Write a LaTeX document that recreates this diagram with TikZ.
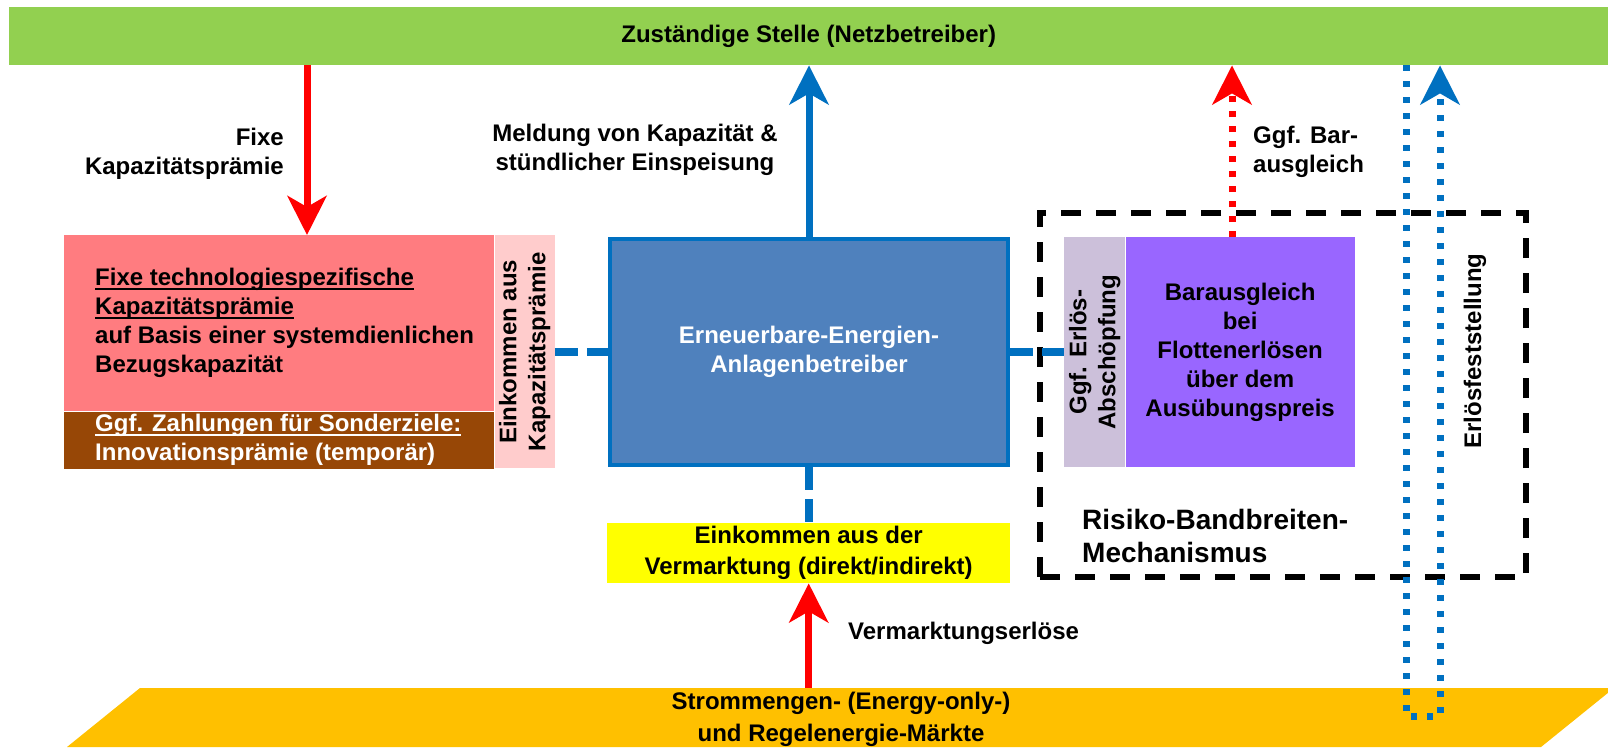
\documentclass[tikz,border=0pt]{standalone}
\usepackage{fontspec}
\setmainfont{Liberation Sans}
\usetikzlibrary{arrows.meta,positioning}

\definecolor{gruen}{HTML}{92D050}
\definecolor{rot}{HTML}{FF0000}
\definecolor{blaulinie}{HTML}{0070C0}
\definecolor{blaubox}{HTML}{4F81BD}
\definecolor{rosa}{HTML}{FF7C80}
\definecolor{hellrosa}{HTML}{FFCCCC}
\definecolor{braun}{HTML}{974706}
\definecolor{gelb}{HTML}{FFFF00}
\definecolor{marktgelb}{HTML}{FFC000}
\definecolor{grau}{HTML}{CCC0DA}
\definecolor{lila}{HTML}{9966FF}

\newcommand{\unterstr}[1]{\leavevmode\setbox0=\hbox{#1}\rlap{\rule[-4pt]{\wd0}{1.8pt}}\box0}

\begin{document}
\begin{tikzpicture}[x=1pt,y=-1pt,
    lbl/.style={font=\bfseries\fontsize{24}{29}\selectfont, inner sep=0pt},
    feld/.style={rectangle, inner sep=0pt, anchor=north west},
    pfeil/.style={line width=7pt, -{Stealth[length=39pt,width=39pt,inset=11pt]}},
    verbindung/.style={blaulinie, line width=8pt, dash pattern=on 23pt off 9pt},
    punkte/.style={line width=7pt, dash pattern=on 6pt off 9pt}]

    % Rahmen
    \useasboundingbox (0,0) rectangle (1608,747);
    \clip (0,0) rectangle (1608,747);

    % Zuständige Stelle oben
    \node[feld, lbl, fill=gruen, minimum width=1599pt, minimum height=58pt] (zust) at (9,7) {Zuständige Stelle (Netzbetreiber)};

    % Märkte unten
    \fill[marktgelb] (67,747) -- (140,688) -- (1614,688) -- (1541,747) -- cycle;
    \coordinate (markttop) at (809,688);
    \node[lbl, align=center, font=\bfseries\fontsize{24}{32}\selectfont] (markt) at (841,719) {Strommengen- (Energy-only-)\\und Regelenergie-Märkte};

    % Kapazitätsprämie links
    \node[feld, fill=rosa, minimum width=430pt, minimum height=176pt] (praemie) at (64,235) {};
    \node[feld, fill=braun, minimum width=430pt, minimum height=57pt] (sonder) at (praemie.south west) {};
    \node[feld, fill=hellrosa, minimum width=60pt, minimum height=233pt] (einkap) at (praemie.north east) {};
    \node[lbl, align=left, anchor=west] (praemietxt) at ([xshift=31pt]praemie.west) {\unterstr{Fixe technologiespezifische}\\\unterstr{Kapazitätsprämie}\\auf Basis einer systemdienlichen\\Bezugskapazität};
    \node[lbl, align=left, anchor=west, text=white] (sondertxt) at ([xshift=31pt]sonder.west) {\unterstr{Ggf. Zahlungen für Sonderziele:}\\Innovationsprämie (temporär)};
    \node[lbl, rotate=90, align=center] (einkaptxt) at (einkap) {Einkommen aus\\Kapazitätsprämie};

    % Anlagenbetreiber
    \node[feld, lbl, fill=blaubox, draw=blaulinie, line width=4pt, text=white, align=center, minimum width=398pt, minimum height=226pt] (betreiber) at (608,237) {Erneuerbare-Energien-\\Anlagenbetreiber};

    % Vermarktung
    \node[feld, lbl, fill=gelb, align=center, font=\bfseries\fontsize{24}{31}\selectfont, minimum width=403pt, minimum height=60pt] (vermarkt) at (607,523) {Einkommen aus der\\Vermarktung (direkt/indirekt)};

    % Risiko-Bandbreiten-Mechanismus
    \node[feld, fill=grau, minimum width=61pt, minimum height=230pt] (abschoepf) at (1064,237) {};
    \node[lbl, rotate=90, align=center] (abschoepftxt) at (abschoepf) {Ggf. Erlös-\\Abschöpfung};
    \node[feld, lbl, fill=lila, align=center, minimum width=229pt, minimum height=230pt] (barausgl) at (abschoepf.north east) {Barausgleich\\bei\\Flottenerlösen\\über dem\\Ausübungspreis};
    \node[draw, line width=6pt, dash pattern=on 20pt off 15pt, inner sep=0pt, minimum width=486pt, minimum height=364pt] (rbm) at (1283,395) {};
    \node[lbl, align=left, anchor=west, font=\bfseries\fontsize{28}{33}\selectfont] (rbmtxt) at (1082,536) {Risiko-Bandbreiten-\\Mechanismus};
    \node[lbl, rotate=90] (erlfest) at (1475,351) {Erlösfeststellung};

    % Gestrichelte Verbindungen
    \draw[verbindung] (einkap.east) -- (einkap.east -| betreiber.west);
    \draw[verbindung] (betreiber.east) -- (betreiber.east -| abschoepf.west);
    \draw[verbindung] (betreiber.south) -- (betreiber.south |- vermarkt.north);

    % Pfeile
    \coordinate (fixe) at (307,0);
    \coordinate (bar) at (1232,0);
    \coordinate (erlhin) at (1406,716);
    \coordinate (erlrueck) at (1440,716);
    \draw[pfeil, rot] (zust.south -| fixe) -- (praemie.north -| fixe);
    \draw[pfeil, blaulinie] (betreiber.north) -- (betreiber.north |- zust.south);
    \draw[pfeil, punkte, rot] (barausgl.north -| bar) -- (zust.south -| bar);
    \draw[pfeil, punkte, blaulinie, dash pattern=on 6pt off 10pt] (zust.south -| erlhin) -- (erlhin) -- (erlrueck) -- (zust.south -| erlrueck);
    \draw[pfeil, rot] (vermarkt.south |- markttop) -- (vermarkt.south);

    % Beschriftungen
    \node[lbl, align=right, anchor=east] (fixlbl) at (284,154) {Fixe\\Kapazitätsprämie};
    \node[lbl, align=center] (meldlbl) at (635,150) {Meldung von Kapazität \&\\stündlicher Einspeisung};
    \node[lbl, align=left, anchor=west] (barlbl) at (1253,152) {Ggf. Bar-\\ausgleich};
    \node[lbl, anchor=west] (vmlbl) at (848,633) {Vermarktungserlöse};

\end{tikzpicture}
\end{document}
